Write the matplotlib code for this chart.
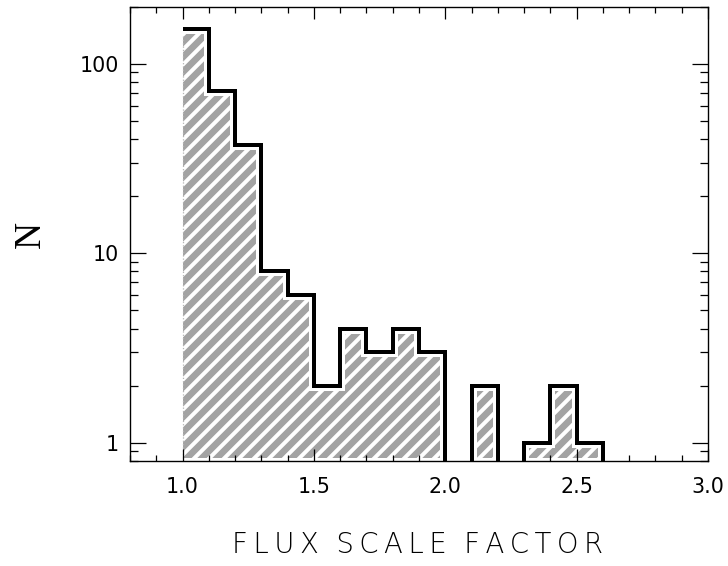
import numpy as np
import matplotlib
matplotlib.use("Agg")
import matplotlib.pyplot as plt
from matplotlib.ticker import MultipleLocator, LogLocator, NullFormatter, FormatStrFormatter

# histogram of flux scale factors (bins of 0.1)
edges = np.array([1.0, 1.1, 1.2, 1.3, 1.4, 1.5, 1.6, 1.7, 1.8,
                  1.9, 2.0, 2.1, 2.2, 2.3, 2.4, 2.5, 2.6])
counts = np.array([153, 72, 37, 8, 6, 2, 4, 3, 4, 3, 0, 2, 0, 1, 2, 1])

xlabel = "FLUX SCALE FACTOR"
ylabel = "N"

plt.rcParams['hatch.linewidth'] = 5.3
plt.rcParams['font.family'] = ['DejaVu Sans']

dpi = 90
fig = plt.figure(figsize=(728 / dpi, 566 / dpi), dpi=dpi)
ax = fig.add_axes([130 / 728, 1 - 461 / 566, 578 / 728, 454.5 / 566])
ax.set_yscale('log')
ax.set_xlim(0.8, 3.0)
ax.set_ylim(0.8, 200)

# hatched fill, sitting a little above the x axis
base = 0.83
keep = counts > 0
ax.bar(edges[:-1][keep], counts[keep] - base, bottom=base, width=0.1, align='edge',
       facecolor='white', edgecolor='#a3a3a3', linewidth=0, hatch='//', zorder=1)
ax.plot([edges[0], edges[0]], [base, counts[0] * 0.93], ls=':', lw=1.0,
        color='#b5b5b5', zorder=1.2)

# step outline, empty bins drop below the axis
outline = np.where(counts > 0, counts, 0.1)
xs = np.repeat(edges, 2)[1:]
ys = np.append(np.repeat(outline, 2), 0.1)
ax.plot(xs, ys, color='white', lw=8.0, solid_joinstyle='miter', solid_capstyle='butt', zorder=1.5)
ax.plot(xs, ys, color='black', lw=3.2, solid_joinstyle='miter', solid_capstyle='butt', zorder=1.6)

ax.xaxis.set_major_locator(MultipleLocator(0.5))
ax.xaxis.set_minor_locator(MultipleLocator(0.1))
ax.xaxis.set_major_formatter(FormatStrFormatter('%.1f'))
ax.set_yticks([1, 10, 100], ['1', '10', '100'])
ax.yaxis.set_minor_locator(LogLocator(base=10, subs=np.arange(2, 10)))
ax.yaxis.set_minor_formatter(NullFormatter())

ax.set_axisbelow(False)
for s in ax.spines.values():
    s.set_linewidth(1.1)
ax.tick_params(which='both', direction='in', top=True, right=True, width=1.0, labelsize=16.5)
ax.tick_params(axis='x', which='major', length=9.5, pad=13)
ax.tick_params(axis='x', which='minor', length=4.8)
ax.tick_params(axis='y', which='major', length=12.5, pad=9)
ax.tick_params(axis='y', which='minor', length=6.2)

spaced = '  '.join('\u2009'.join(w) for w in xlabel.split())
fig.text(418 / 728, 1 - 545 / 566, spaced, ha='center', va='center',
         fontsize=22, family='DejaVu Sans', fontweight='light')
fig.text(31 / 728, 1 - 234 / 566, ylabel, ha='center', va='center', rotation=90,
         fontsize=30, family='Liberation Serif')

fig.savefig('out.png', dpi=dpi)
